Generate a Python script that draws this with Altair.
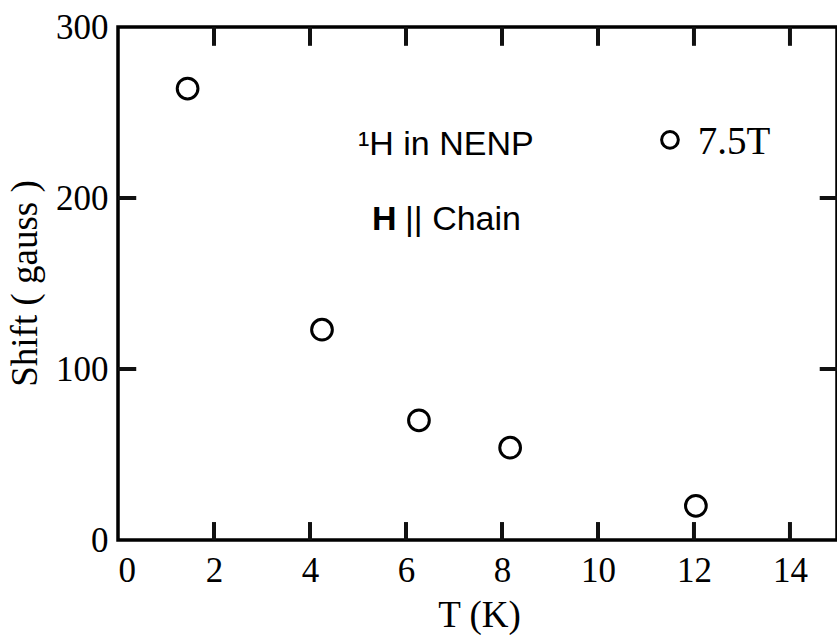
import altair as alt
import pandas as pd

# measured data
temps = [1.45, 4.25, 6.27, 8.17, 12.04]
shifts = [264, 123, 70, 54, 20]

x_ticks = [2, 4, 6, 8, 10, 12, 14]
y_ticks = [100, 200]

data = pd.DataFrame({"T": temps, "Shift": shifts})

W, H = 719, 513
serif = "Liberation Serif"
sans = "Liberation Sans"
TICK_COLOR = "#111111"

xscale = alt.Scale(domain=[0, 14.98], nice=False, zero=False)
yscale = alt.Scale(domain=[0, 300], nice=False)

points = alt.Chart(data).mark_point(
    shape="circle", filled=False, color="black", strokeWidth=3, size=430, opacity=1
).encode(
    x=alt.X("T:Q", scale=xscale, axis=alt.Axis(
        title="T (K)", values=[0, 2, 4, 6, 8, 10, 12, 14], ticks=False, domain=False, grid=False,
        labelFont=serif, labelFontSize=35, labelColor="black", labelPadding=13,
        titleFont=serif, titleFontSize=37, titleFontWeight="normal", titleColor="black",
        titleX=361, titleY=86, titleBaseline="alphabetic", titleAlign="center")),
    y=alt.Y("Shift:Q", scale=yscale, axis=alt.Axis(
        title="Shift ( gauss )", values=[0, 100, 200, 300], ticks=False, domain=False, grid=False,
        labelFont=serif, labelFontSize=35, labelColor="black", labelPadding=10,
        titleFont=serif, titleFontSize=37, titleFontWeight="normal", titleColor="black",
        titleX=-93, titleY=256, titleAngle=-90, titleAlign="center", titleBaseline="middle")),
)

# inward frame ticks
xt = pd.DataFrame({"T": x_ticks})
yt = pd.DataFrame({"Shift": y_ticks})

bottom_ticks = alt.Chart(xt).mark_rule(color=TICK_COLOR, strokeWidth=4).encode(
    x=alt.X("T:Q", scale=xscale), y=alt.datum(0, scale=yscale), y2=alt.datum(10.5))
top_ticks = alt.Chart(xt).mark_rule(color=TICK_COLOR, strokeWidth=4).encode(
    x=alt.X("T:Q", scale=xscale), y=alt.datum(300, scale=yscale), y2=alt.datum(289))
left_ticks = alt.Chart(yt).mark_rule(color=TICK_COLOR, strokeWidth=4).encode(
    y=alt.Y("Shift:Q", scale=yscale), x=alt.datum(0, scale=xscale), x2=alt.datum(0.38))
right_ticks = alt.Chart(yt).mark_rule(color=TICK_COLOR, strokeWidth=4).encode(
    y=alt.Y("Shift:Q", scale=yscale), x=alt.datum(14.98, scale=xscale), x2=alt.datum(14.62))

# annotations
ann1 = alt.Chart(pd.DataFrame({"T": [5.0], "Shift": [225], "t": ["\u00b9H in NENP"]})).mark_text(
    font=sans, fontSize=34, align="left", baseline="alphabetic", color="black"
).encode(x=alt.X("T:Q", scale=xscale), y=alt.Y("Shift:Q", scale=yscale), text="t:N")

ann2 = alt.Chart(pd.DataFrame({"T": [5.29], "Shift": [181], "t": ["H"]})).mark_text(
    font=sans, fontSize=34, fontWeight="bold", align="left", baseline="alphabetic", color="black"
).encode(x=alt.X("T:Q", scale=xscale), y=alt.Y("Shift:Q", scale=yscale), text="t:N")

ann3 = alt.Chart(pd.DataFrame({"T": [5.98], "Shift": [181], "t": ["|| Chain"]})).mark_text(
    font=sans, fontSize=34, align="left", baseline="alphabetic", color="black"
).encode(x=alt.X("T:Q", scale=xscale), y=alt.Y("Shift:Q", scale=yscale), text="t:N")

leg_pt = alt.Chart(pd.DataFrame({"T": [11.5], "Shift": [234]})).mark_point(
    shape="circle", filled=False, color="black", strokeWidth=3, size=280, opacity=1
).encode(x=alt.X("T:Q", scale=xscale), y=alt.Y("Shift:Q", scale=yscale))

leg_txt = alt.Chart(pd.DataFrame({"T": [12.08], "Shift": [226], "t": ["7.5T"]})).mark_text(
    font=serif, fontSize=39, align="left", baseline="alphabetic", color="black"
).encode(x=alt.X("T:Q", scale=xscale), y=alt.Y("Shift:Q", scale=yscale), text="t:N")

chart = alt.layer(
    points, bottom_ticks, top_ticks, left_ticks, right_ticks, ann1, ann2, ann3, leg_pt, leg_txt
).properties(
    width=W, height=H,
    autosize=alt.AutoSizeParams(type="none"),
    padding={"left": 118, "top": 27, "right": 0, "bottom": 95},
    background="white",
).configure_view(stroke="black", strokeWidth=3.5)

chart.save("out.html", embed_options={"renderer": "svg", "actions": False})
